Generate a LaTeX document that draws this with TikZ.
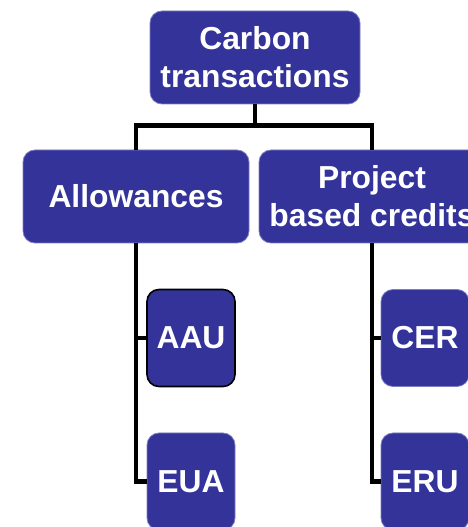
\documentclass[tikz,border=0pt]{standalone}
\usepackage{fontspec}
\setmainfont{Liberation Sans}
\usepackage{tikz}
\usetikzlibrary{calc}
\definecolor{boxblue}{RGB}{51,51,153}
\definecolor{boxedge}{RGB}{125,125,195}

\begin{document}
\begin{tikzpicture}[x=1pt, y=1pt, line join=miter,
  item/.style={rectangle, rounded corners=12pt, fill=boxblue, draw=boxedge, line width=0.8pt,
    text=white, font=\fontsize{31.8}{38}\selectfont\bfseries, align=center, inner sep=0pt},
  wide/.style={item, minimum width=226pt, minimum height=93pt},
  small/.style={item, minimum width=88pt, minimum height=97pt},
  link/.style={line width=4.5pt, black}] % 箱と線のスタイル
  \useasboundingbox (0,0) rectangle (467,527); % 画像の大きさ

  \node[item, minimum width=210pt, minimum height=93pt] (carbon) at (255,469.5) {Carbon\\transactions}; % 一番上
  \node[wide] (allow) at (136,330.5) {Allowances}; % 左の列
  \node[wide] (proj) at (372,330.5) {Project\\based credits}; % 右の列、右端は切れる
  \node[small, draw=black, line width=1.6pt] (aau) at (191,189) {AAU}; % 黒い枠
  \node[small] (eua) at (191,45.5) {EUA};
  \node[small] (cer) at (425,189) {CER};
  \node[small] (eru) at (425,45.5) {ERU};

  \draw[link] (carbon.south) -- ++(0,-21) coordinate (fork); % 分岐点
  \draw[link] (allow.north) |- (fork) -| (proj.north); % 横の線
  \draw[link] (allow.south) |- (aau.west);
  \draw[link] (allow.south) |- (eua.west);
  \draw[link] (proj.south) |- (cer.west);
  \draw[link] (proj.south) |- (eru.west);

\end{tikzpicture}
\end{document}
